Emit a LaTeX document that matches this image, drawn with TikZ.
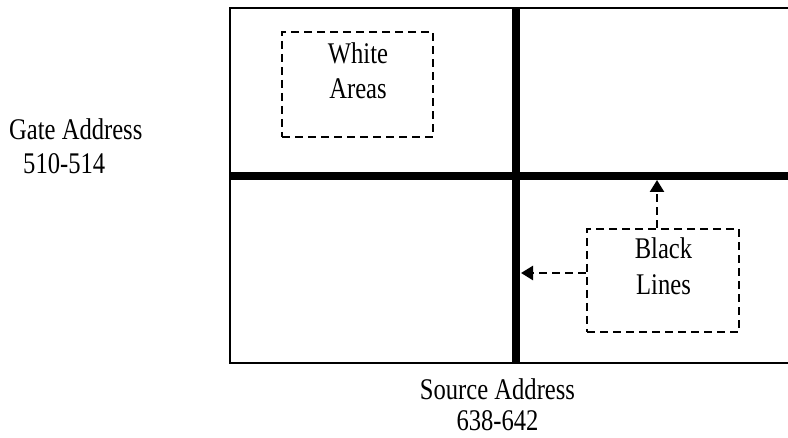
\documentclass[tikz,border=0pt]{standalone}
\usepackage{fontspec}
\setmainfont{Liberation Serif}[FakeStretch=0.82]
\usetikzlibrary{arrows.meta}
\begin{document}
\begin{tikzpicture}[x=1pt,y=-1pt,
  frame/.style={line width=2.8pt},
  bar/.style={line width=8.5pt},
  dbox/.style={draw,line width=2.4pt,dash pattern=on 8pt off 5pt,inner sep=0pt},
  lbl/.style={inner sep=0pt,align=center,font=\fontsize{30}{35}\selectfont},
  darrow/.style={line width=2.4pt,dash pattern=on 8pt off 5pt,-{Triangle[length=12pt,width=14pt]}}]
\useasboundingbox (0,0) rectangle (788,438);
% outer frame (right side runs off the picture)
\draw[frame] (790,8) -- (230,8) -- (230,363) -- (790,363);
% thick black lines
\draw[bar] (516,8) -- (516,363);
\draw[bar] (230,176) -- (790,176);
% white areas box
\node[dbox,minimum width=151pt,minimum height=105pt] (wbox) at (357.5,84.5) {};
\node[lbl] (wtext) at (358,70.3) {White\\Areas};
% black lines box
\node[dbox,minimum width=152pt,minimum height=103pt] (bbox) at (663,280.5) {};
\node[lbl,font=\fontsize{30}{36}\selectfont] (btext) at (663.5,266.5) {Black\\Lines};
% arrows
\coordinate (vtip) at (521,273);
\coordinate (htip) at (657,180);
\draw[darrow] (bbox.west |- vtip) -- (vtip);
\draw[darrow] (htip |- bbox.north) -- (htip);
% axis labels
\node[lbl,align=left,anchor=west,font=\fontsize{30}{34}\selectfont] (gate) at (9,146.5) {Gate Address\\\hspace*{14pt}510-514};
\node[lbl,font=\fontsize{30}{31}\selectfont] (source) at (497.5,405) {Source Address\\638-642};
\end{tikzpicture}
\end{document}
